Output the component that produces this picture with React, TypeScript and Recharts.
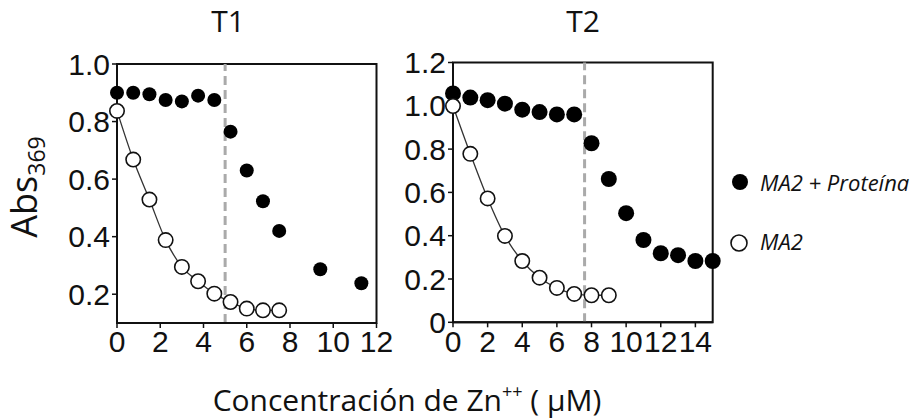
import { ComposedChart, Scatter, Line, XAxis, YAxis, ReferenceLine, ReferenceArea } from 'recharts';

// T1 panel
const t1ProtX = [0, 0.75, 1.5, 2.25, 3, 3.75, 4.5, 5.25, 6, 6.75, 7.5, 9.4, 11.3];
const t1ProtY = [0.9, 0.9, 0.895, 0.875, 0.87, 0.89, 0.875, 0.765, 0.63, 0.523, 0.42, 0.287, 0.238];
const t1MaX = [0, 0.75, 1.5, 2.25, 3, 3.75, 4.5, 5.25, 6, 6.75, 7.5];
const t1MaY = [0.837, 0.668, 0.529, 0.388, 0.295, 0.245, 0.202, 0.173, 0.15, 0.144, 0.144];

// T2 panel
const t2ProtX = [0, 1, 2, 3, 4, 5, 6, 7, 8, 9, 10, 11, 12, 13, 14, 15];
const t2ProtY = [1.057, 1.038, 1.026, 1.01, 0.982, 0.971, 0.96, 0.96, 0.827, 0.662, 0.504, 0.38, 0.319, 0.31, 0.283, 0.283];
const t2MaX = [0, 1, 2, 3, 4, 5, 6, 7, 8, 9];
const t2MaY = [0.999, 0.778, 0.572, 0.399, 0.283, 0.206, 0.159, 0.131, 0.125, 0.125];

const t1XTicks = [0, 2, 4, 6, 8, 10, 12];
const t1YTicks = [0.2, 0.4, 0.6, 0.8, 1.0];
const t2XTicks = [0, 2, 4, 6, 8, 10, 12, 14];
const t2YTicks = [0, 0.2, 0.4, 0.6, 0.8, 1.0, 1.2];

const toPoints = (xs: number[], ys: number[]) => xs.map((x, i) => ({ x, y: ys[i] }));

const tickFont = { fontSize: 30, fill: '#111', fontFamily: '"Liberation Sans", Arial, sans-serif' };
const titleFont = '"Open Sans", "Noto Sans", sans-serif';

type PanelProps = {
  prot: { x: number; y: number }[];
  ma: { x: number; y: number }[];
  xMax: number;
  yDomain: [number, number];
  xTicks: number[];
  yTicks: number[];
  dashX: number;
  width: number;
  left: number;
  margin: { top: number; right: number; bottom: number; left: number };
  r: number;
};

const Panel = ({ prot, ma, xMax, yDomain, xTicks, yTicks, dashX, width, left, margin, r }: PanelProps) => (
  <div style={{ position: 'absolute', left, top: 0 }}>
    <ComposedChart width={width} height={370} margin={margin}>
      <XAxis
        type="number"
        dataKey="x"
        domain={[0, xMax]}
        ticks={xTicks}
        interval={0}
        tick={tickFont}
        tickSize={5}
        tickMargin={3}
        height={40}
        axisLine={{ stroke: '#111', strokeWidth: 2 }}
        tickLine={{ stroke: '#111', strokeWidth: 1.5 }}
      />
      <YAxis
        type="number"
        dataKey="y"
        domain={yDomain}
        ticks={yTicks}
        interval={0}
        tickFormatter={(v: number) => (v === 0 ? '0' : v.toFixed(1))}
        tick={tickFont}
        tickSize={5}
        tickMargin={2}
        width={60}
        axisLine={{ stroke: '#111', strokeWidth: 2 }}
        tickLine={{ stroke: '#111', strokeWidth: 1.5 }}
      />
      <ReferenceArea x1={0} x2={xMax} y1={yDomain[0]} y2={yDomain[1]} fill="none" stroke="#111" strokeWidth={2} />
      <ReferenceLine x={dashX} stroke="#aaa" strokeWidth={3} strokeDasharray="9 5" />
      <Scatter
        data={prot}
        dataKey="y"
        isAnimationActive={false}
        shape={(p: any) => <circle cx={p.cx} cy={p.cy} r={r} fill="#000" />}
      />
      <Line
        data={ma}
        dataKey="y"
        type="monotone"
        stroke="#333"
        strokeWidth={1.3}
        activeDot={false}
        isAnimationActive={false}
        dot={(p: any) => (
          <circle key={p.index} cx={p.cx} cy={p.cy} r={7.2} fill="#fff" stroke="#111" strokeWidth={1.6} />
        )}
      />
    </ComposedChart>
  </div>
);

export default function App() {
  return (
    <div style={{ position: 'absolute', left: 0, top: 0, width: 915, height: 420, background: '#fff' }}>
      <Panel
        prot={toPoints(t1ProtX, t1ProtY)}
        ma={toPoints(t1MaX, t1MaY)}
        xMax={12}
        yDomain={[0.1, 1.0]}
        xTicks={t1XTicks}
        yTicks={t1YTicks}
        dashX={5}
        width={400}
        left={0}
        margin={{ top: 64, right: 23.5, bottom: 7, left: 57 }}
        r={7}
      />
      <Panel
        prot={toPoints(t2ProtX, t2ProtY)}
        ma={toPoints(t2MaX, t2MaY)}
        xMax={15}
        yDomain={[0, 1.2]}
        xTicks={t2XTicks}
        yTicks={t2YTicks}
        dashX={7.6}
        width={360}
        left={380}
        margin={{ top: 62.5, right: 27.3, bottom: 7.7, left: 13 }}
        r={8}
      />
      <svg width={915} height={420} style={{ position: 'absolute', left: 0, top: 0, pointerEvents: 'none' }}>
        <text x={228} y={32} textAnchor="middle" fontSize={30} fontFamily={titleFont} fill="#111">T1</text>
        <text x={583} y={32} textAnchor="middle" fontSize={30} fontFamily={titleFont} fill="#111">T2</text>
        <text transform="translate(37,187) rotate(-90)" textAnchor="middle" fontSize={36} fontFamily={titleFont} fill="#111">
          Abs<tspan fontSize={23} dy={8}>369</tspan>
        </text>
        <text x={407} y={411} textAnchor="middle" fontSize={30} fontFamily={titleFont} fill="#111">
          Concentración de Zn<tspan fontSize={18} dy={-13}>++</tspan>
          <tspan dy={13}> ( μM)</tspan>
        </text>
        <circle cx={740} cy={182} r={8} fill="#000" />
        <text x={760} y={191} fontSize={22} fontStyle="italic" fontFamily={titleFont} fill="#111">MA2 + Proteína</text>
        <circle cx={739} cy={243} r={8} fill="#fff" stroke="#111" strokeWidth={1.6} />
        <text x={760} y={250} fontSize={22} fontStyle="italic" fontFamily={titleFont} fill="#111">MA2</text>
      </svg>
    </div>
  );
}
